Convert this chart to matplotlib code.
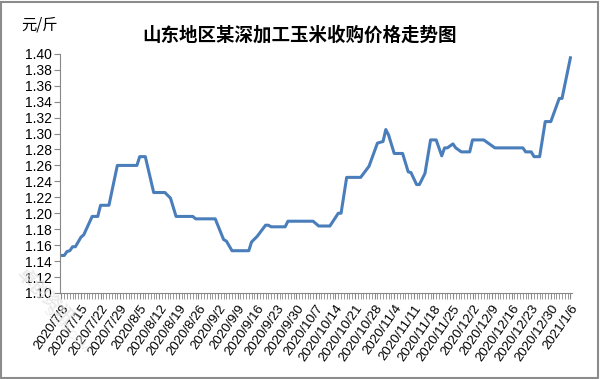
"""山东地区某深加工玉米收购价格走势图"""

import numpy as np
import pandas as pd
import matplotlib
matplotlib.use("Agg")
import matplotlib.pyplot as plt
import matplotlib.dates as mdates

plt.rcParams["font.family"] = ["Liberation Sans", "Noto Sans CJK SC", "DejaVu Sans"]
plt.rcParams["axes.unicode_minus"] = False

# price readings (date, 元/斤) at the turning points of the line
dates = [
    "2020-07-08", "2020-07-09", "2020-07-10", "2020-07-11", "2020-07-12", "2020-07-13",
    "2020-07-15", "2020-07-16", "2020-07-19", "2020-07-21", "2020-07-22", "2020-07-25",
    "2020-07-28", "2020-08-04", "2020-08-05", "2020-08-07", "2020-08-10", "2020-08-14",
    "2020-08-16", "2020-08-18", "2020-08-24", "2020-08-25", "2020-09-01", "2020-09-04",
    "2020-09-05", "2020-09-07", "2020-09-13", "2020-09-14", "2020-09-16", "2020-09-19",
    "2020-09-20", "2020-09-21", "2020-09-26", "2020-09-27", "2020-10-06", "2020-10-08",
    "2020-10-12", "2020-10-15", "2020-10-16", "2020-10-18", "2020-10-23", "2020-10-26",
    "2020-10-29", "2020-10-31", "2020-11-01", "2020-11-02", "2020-11-04", "2020-11-07",
    "2020-11-09", "2020-11-10", "2020-11-12", "2020-11-13", "2020-11-15", "2020-11-17",
    "2020-11-19", "2020-11-21", "2020-11-22", "2020-11-23", "2020-11-25", "2020-11-26",
    "2020-11-28", "2020-12-01", "2020-12-02", "2020-12-06", "2020-12-10", "2020-12-20",
    "2020-12-21", "2020-12-23", "2020-12-24", "2020-12-26", "2020-12-28", "2020-12-30",
    "2021-01-02", "2021-01-03", "2021-01-06",
]
prices = [
    1.147, 1.147, 1.152, 1.153, 1.158, 1.158,
    1.170, 1.173, 1.196, 1.196, 1.210, 1.210,
    1.260, 1.260, 1.271, 1.271, 1.226, 1.226,
    1.219, 1.196, 1.196, 1.193, 1.193, 1.167,
    1.165, 1.153, 1.153, 1.164, 1.171, 1.185,
    1.185, 1.183, 1.183, 1.190, 1.190, 1.184,
    1.184, 1.200, 1.200, 1.245, 1.245, 1.259,
    1.288, 1.290, 1.305, 1.298, 1.275, 1.275,
    1.252, 1.251, 1.236, 1.236, 1.250, 1.292,
    1.292, 1.272, 1.282, 1.282, 1.287, 1.282,
    1.277, 1.277, 1.292, 1.292, 1.282, 1.282,
    1.277, 1.277, 1.271, 1.271, 1.315, 1.315,
    1.344, 1.344, 1.395,
]

start = pd.Timestamp("2020-07-08")
end = pd.Timestamp("2021-01-06")
tick_dates = pd.date_range(start, end, freq="7D")
tick_labels = [f"{d.year}/{d.month}/{d.day}" for d in tick_dates]
y_ticks = np.arange(1.10, 1.401, 0.02)

fig = plt.figure(figsize=(6, 3.79), dpi=100)
ax = fig.add_axes([0.1, 0.227, 0.853, 0.631])

x = pd.to_datetime(dates)
ax.plot(x, prices, color="#4A7EBB", lw=2.2, solid_joinstyle="round")

ax.set_xlim(start - pd.Timedelta(hours=12), end + pd.Timedelta(hours=12))
ax.set_ylim(1.10, 1.40)
ax.set_yticks(y_ticks)
ax.set_yticklabels([f"{v:.2f}" for v in y_ticks], fontsize=10)
ax.set_xticks(tick_dates)
ax.set_xticklabels(tick_labels, rotation=55, ha="right", va="top",
                   rotation_mode="anchor", fontsize=9.5)
ax.xaxis.set_minor_locator(mdates.DayLocator())
ax.tick_params(axis="x", which="both", length=4, color="#888888", pad=3)
ax.tick_params(axis="y", length=4, color="#888888", pad=2)

for s in ["top", "right"]:
    ax.spines[s].set_visible(False)
for s in ["left", "bottom"]:
    ax.spines[s].set_color("#888888")
    ax.spines[s].set_linewidth(0.8)

fig.text(0.5, 0.907, "山东地区某深加工玉米收购价格走势图", ha="center", va="center",
         fontsize=13.3, fontweight="bold", family=["Noto Sans CJK SC"])
fig.text(0.036, 0.935, "元/斤", ha="left", va="center", fontsize=11,
         family=["Noto Sans CJK SC"])

# faint watermark
fig.text(0.075, 0.22, "卓创资讯", rotation=-45, ha="center", va="center",
         fontsize=13, fontweight="bold", color="#e2e2e2", alpha=0.7,
         family=["Noto Sans CJK SC"], zorder=0)
fig.text(0.11, 0.13, "SCI99.COM", rotation=-45, ha="center", va="center",
         fontsize=8, color="#e2e2e2", alpha=0.7, zorder=0)

# chart border
fig.patches.append(plt.Rectangle((0.002, 0.003), 0.995, 0.993, transform=fig.transFigure,
                                 fill=False, edgecolor="#8c8c8c", lw=1.5))

fig.savefig("out.png", dpi=100, facecolor="white")
